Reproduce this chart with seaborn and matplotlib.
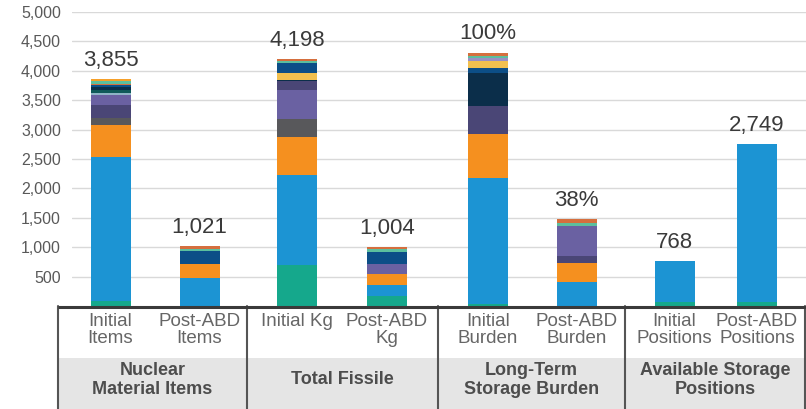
import matplotlib
matplotlib.use("Agg")
import matplotlib.pyplot as plt
from matplotlib.patches import Rectangle
import numpy as np
import seaborn as sns

# ---- data -------------------------------------------------------------
bar_labels = ["Initial\nItems", "Post-ABD\nItems", "Initial Kg", "Post-ABD\nKg",
              "Initial\nBurden", "Post-ABD\nBurden", "Initial\nPositions", "Post-ABD\nPositions"]
group_labels = ["Nuclear\nMaterial Items", "Total Fissile",
                "Long-Term\nStorage Burden", "Available Storage\nPositions"]
value_labels = ["3,855", "1,021", "4,198", "1,004", "100%", "38%", "768", "2,749"]
y_ticks = [500, 1000, 1500, 2000, 2500, 3000, 3500, 4000, 4500, 5000]

# stacked components, bottom to top, one value per bar
teal      = [85, 0, 697, 170, 40, 0, 60, 60]
blue      = [2453, 471, 1530, 187, 2141, 413, 708, 2689]
orange    = [539, 238, 651, 182, 743, 313, 0, 0]
gray      = [114, 0, 301, 0, 0, 0, 0, 0]
plum_low  = [226, 0, 0, 0, 476, 124, 0, 0]
violet    = [163, 0, 493, 170, 0, 510, 0, 0]
plum_high = [0, 0, 158, 0, 0, 0, 0, 0]
slate     = [40, 0, 0, 0, 0, 0, 0, 0]
pine      = [60, 0, 0, 0, 0, 0, 0, 0]
midnight  = [40, 0, 20, 0, 556, 0, 0, 0]
gold_low  = [0, 0, 106, 0, 0, 0, 0, 0]
navy      = [35, 222, 170, 214, 85, 0, 0, 0]
gold_high = [0, 0, 0, 0, 129, 0, 0, 0]
lavender  = [0, 0, 0, 0, 40, 0, 0, 0]
mint_low  = [0, 40, 35, 50, 40, 56, 0, 0]
rust      = [28, 50, 37, 31, 56, 58, 0, 0]
mint_high = [45, 0, 0, 0, 0, 0, 0, 0]
amber     = [27, 0, 0, 0, 0, 0, 0, 0]

layers = [teal, blue, orange, gray, plum_low, violet, plum_high, slate, pine,
          midnight, gold_low, navy, gold_high, lavender, mint_low, rust, mint_high, amber]
layer_colors = ["#15a88c", "#1c94d3", "#f5901f", "#58585b", "#4a4676", "#6a61a2",
                "#4a4676", "#8eb4c6", "#0f5a5a", "#0b2e4a", "#f2c04f", "#0c4e87",
                "#f2c04f", "#9a8fc4", "#5cbf9e", "#d56f3e", "#5cbf9e", "#f6a02a"]

# ---- layout (pixel-based horizontal coordinates) ---------------------------
W, H = 806, 409
bar_x = [110.5, 199.5, 297, 387, 488, 576.5, 674.5, 757]
group_edges = [58, 247, 438, 625, 805]
bar_w = 40
base_y, top_y = 306, 12
ax_left = 72

sns.set_style("white")
plt.rcParams["font.family"] = ["Liberation Sans", "DejaVu Sans"]

fig = plt.figure(figsize=(W / 100, H / 100), dpi=100)
ax = fig.add_axes([ax_left / W, (H - base_y) / H, (W - ax_left) / W, (base_y - top_y) / H])

cum = np.cumsum(np.array(layers, dtype=float), axis=0)
min_gap = np.min(np.diff(sorted(bar_x)))
for k in range(len(layers) - 1, -1, -1):
    sns.barplot(x=bar_x, y=cum[k], color=layer_colors[k], native_scale=True,
                width=bar_w / min_gap, linewidth=0, saturation=1, errorbar=None,
                orient="x", ax=ax, zorder=3)

totals = cum[-1]
for xp, tot, lab in zip(bar_x, totals, value_labels):
    ax.annotate(lab, (xp, tot), xytext=(0, 6), textcoords="offset points",
                ha="center", va="bottom", fontsize=16, color="#3a3a3a")

ax.set_xlim(ax_left, W)
ax.set_ylim(0, 5000)
ax.set_yticks(y_ticks)
ax.set_yticklabels([f"{t:,}" for t in y_ticks], fontsize=11.5, color="#595959")
ax.set_xticks([])
ax.yaxis.grid(True, color="#d9d9d9", linewidth=1)
ax.set_axisbelow(True)
ax.tick_params(axis="y", length=0, pad=8)
for s in ax.spines.values():
    s.set_visible(False)
ax.set_xlabel("")
ax.set_ylabel("")

# ---- category table under the bars ----------------------------------------
tab = fig.add_axes([group_edges[0] / W, 0, (W - group_edges[0]) / W, (H - base_y) / H])
tab.set_xlim(group_edges[0], W)
tab.set_ylim(H, base_y)
tab.axis("off")
tab.add_patch(Rectangle((group_edges[0], 358), W - group_edges[0], H - 358,
                        facecolor="#e5e5e5", edgecolor="none"))
for gx in group_edges:
    tab.plot([gx, gx], [base_y, H], color="#555555", lw=1.5, clip_on=False)
tab.plot([group_edges[0], W], [base_y + 0.5, base_y + 0.5], color="#3a3a3a", lw=2.2,
         clip_on=False, solid_capstyle="butt")

for xp, lab in zip(bar_x, bar_labels):
    tab.text(xp, 313, lab, ha="center", va="top", fontsize=13.5, color="#666666",
             linespacing=0.98)
for i, lab in enumerate(group_labels):
    cx = (group_edges[i] + group_edges[i + 1]) / 2
    tab.text(cx, 380, lab, ha="center", va="center", fontsize=13, fontweight="bold",
             color="#4d4d4d", linespacing=1.1)

fig.savefig("out.png", dpi=100)
